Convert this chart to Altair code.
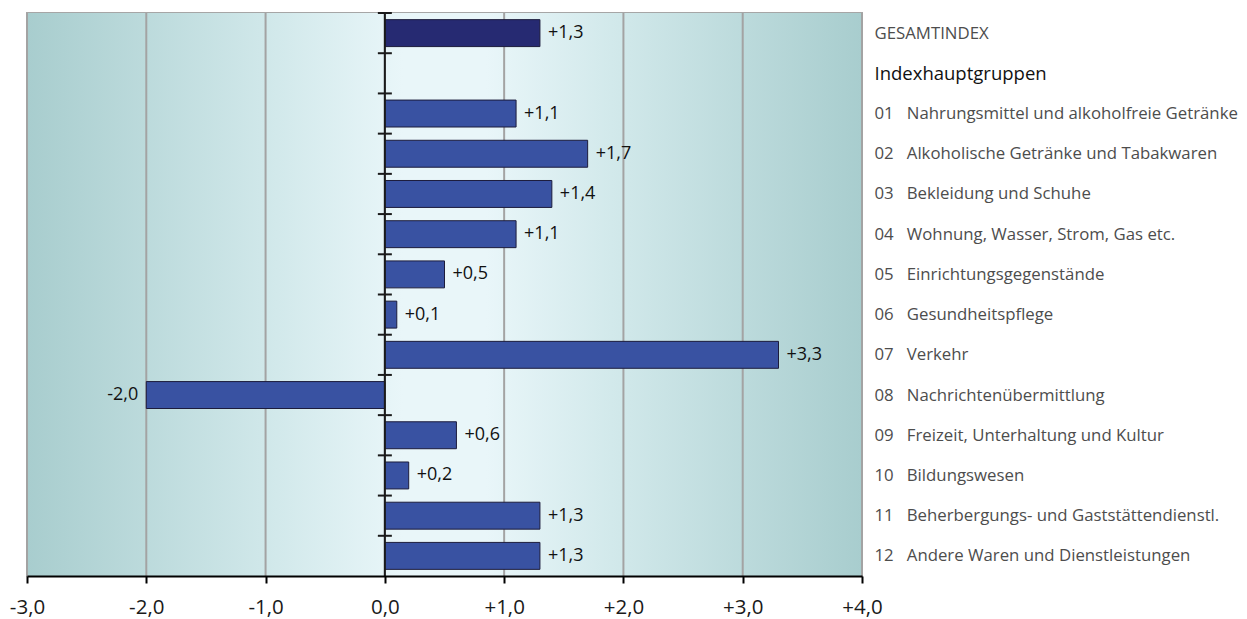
import json
import altair as alt
import pandas as pd

# Year-on-year change of the consumer price index, by main group (percent)
labels = [
    "GESAMTINDEX",
    "\u00a0\u00a0Indexhauptgruppen",
    "01\u00a0\u00a0\u00a0Nahrungsmittel und alkoholfreie Getränke",
    "02\u00a0\u00a0\u00a0Alkoholische Getränke und Tabakwaren",
    "03\u00a0\u00a0\u00a0Bekleidung und Schuhe",
    "04\u00a0\u00a0\u00a0Wohnung, Wasser, Strom, Gas etc.",
    "05\u00a0\u00a0\u00a0Einrichtungsgegenstände",
    "06\u00a0\u00a0\u00a0Gesundheitspflege",
    "07\u00a0\u00a0\u00a0Verkehr",
    "08\u00a0\u00a0\u00a0Nachrichtenübermittlung",
    "09\u00a0\u00a0\u00a0Freizeit, Unterhaltung und Kultur",
    "10\u00a0\u00a0\u00a0Bildungswesen",
    "11\u00a0\u00a0\u00a0Beherbergungs- und Gaststättendienstl.",
    "12\u00a0\u00a0\u00a0Andere Waren und Dienstleistungen",
]
values = [1.3, None, 1.1, 1.7, 1.4, 1.1, 0.5, 0.1, 3.3, -2.0, 0.6, 0.2, 1.3, 1.3]
kinds = ["total", "header"] + ["group"] * 12
x_ticks = [-3, -2, -1, 0, 1, 2, 3, 4]

W, H = 835, 563
FONT = "Open Sans"
N = len(labels)
BAND = 0.165  # empty share above and below each bar inside its row


def fmt(v):
    s = f"{abs(v):.1f}".replace(".", ",")
    return ("+" if v > 0 else "-" if v < 0 else "") + s


rows = []
for i, (lab, v, k) in enumerate(zip(labels, values, kinds)):
    rows.append({
        "row": i, "label": lab, "kind": k, "value": v,
        "y0": i + BAND, "y1": i + 1 - BAND, "yc": i + 0.5,
        "text": fmt(v) if v is not None else "",
    })
df = pd.DataFrame(rows)
bars_df = df[df["value"].notna()]

xscale = alt.Scale(domain=[-3, 4], nice=False, zero=False)
yscale = alt.Scale(domain=[0, N], reverse=True, nice=False, zero=False)

label_lookup = json.dumps(labels, ensure_ascii=False)

x_axis = alt.Axis(
    values=x_ticks,
    labelExpr="(datum.value > 0 ? '+' : datum.value < 0 ? '-' : '') + "
              "replace(format(abs(datum.value), '.1f'), '.', ',')",
    grid=False, domainColor="#000000", domainWidth=2,
    tickColor="#000000", tickWidth=2, tickSize=7,
    labelFont=FONT, labelFontSize=20.5, labelColor="#1a1a1a",
    labelPadding=14, labelFlush=False, labelBound=False, labelOverlap=False,
    title=None, zindex=1,
)

# category names sit on a right-hand axis, one label per row centre
y_axis = alt.Axis(
    orient="right",
    values=[i + 0.5 for i in range(N)],
    labelExpr=f"{label_lookup}[floor(datum.value)]",
    labelAlign="left", labelBaseline="middle", labelPadding=12,
    labelFont=FONT,
    labelFontSize=alt.condition("floor(datum.value) == 1",
                                alt.value(18.5), alt.value(16.8)),
    labelColor=alt.condition("floor(datum.value) == 1",
                             alt.value("#111111"), alt.value("#4d4d4d")),
    labelLimit=420, labelOverlap=False, labelBound=False, labelFlush=False,
    domain=False, ticks=False, grid=False, title=None,
)

# background: horizontal gradient, pale in the middle, teal at both sides
background = alt.Chart(pd.DataFrame({"a": [0]})).mark_rect(
    fill=alt.LinearGradient(
        gradient="linear", x1=0, x2=1, y1=0, y2=0,
        stops=[
            alt.GradientStop(offset=0.0, color="#a8cdce"),
            alt.GradientStop(offset=0.3, color="#d2e9eb"),
            alt.GradientStop(offset=0.45, color="#e9f6f9"),
            alt.GradientStop(offset=0.55, color="#e9f6f9"),
            alt.GradientStop(offset=0.7, color="#d2e9eb"),
            alt.GradientStop(offset=1.0, color="#a8cdce"),
        ],
    )
).encode(
    x=alt.datum(-3, scale=xscale, axis=x_axis),
    x2=alt.datum(4),
    y=alt.datum(0, scale=yscale, axis=y_axis),
    y2=alt.datum(N),
)

grid = alt.Chart(pd.DataFrame({"g": x_ticks})).mark_rule(
    color="#a3a3a3", strokeWidth=2
).encode(x=alt.X("g:Q", scale=xscale, axis=x_axis))

bars = alt.Chart(bars_df).mark_bar(stroke="#1c1c3c", strokeWidth=1).encode(
    x=alt.X("value:Q", scale=xscale, axis=x_axis),
    x2=alt.datum(0),
    y=alt.Y("y0:Q", scale=yscale, axis=y_axis),
    y2="y1:Q",
    color=alt.Color(
        "kind:N",
        scale=alt.Scale(domain=["total", "group"], range=["#262a72", "#3952a2"]),
        legend=None,
    ),
)

zero_line = alt.Chart(pd.DataFrame({"z": [0]})).mark_rule(
    color="#1a1a1a", strokeWidth=2
).encode(x=alt.X("z:Q", scale=xscale, axis=x_axis))

row_ticks = alt.Chart(pd.DataFrame({"b": list(range(N))})).mark_rule(
    color="#1a1a1a", strokeWidth=2, xOffset=-7, x2Offset=7
).encode(
    x=alt.datum(0, scale=xscale, axis=x_axis),
    x2=alt.datum(0),
    y=alt.Y("b:Q", scale=yscale, axis=y_axis),
)

text_pos = alt.Chart(bars_df).transform_filter("datum.value >= 0").mark_text(
    align="left", baseline="middle", dx=8, font=FONT, fontSize=18, color="#111111"
).encode(
    x=alt.X("value:Q", scale=xscale, axis=x_axis),
    y=alt.Y("yc:Q", scale=yscale, axis=y_axis),
    text="text:N",
)

text_neg = alt.Chart(bars_df).transform_filter("datum.value < 0").mark_text(
    align="right", baseline="middle", dx=-8, font=FONT, fontSize=18, color="#111111"
).encode(
    x=alt.X("value:Q", scale=xscale, axis=x_axis),
    y=alt.Y("yc:Q", scale=yscale, axis=y_axis),
    text="text:N",
)

chart = alt.layer(
    background, grid, bars, zero_line, row_ticks, text_pos, text_neg
).properties(
    width=W, height=H,
    autosize=alt.AutoSizeParams(type="none"),
    padding={"left": 27, "top": 13, "right": 385, "bottom": 43},
    background="#ffffff",
).configure_view(
    stroke="#a6a6a6", strokeWidth=2
)

chart.save("out.html", embed_options={"renderer": "svg", "actions": False})
